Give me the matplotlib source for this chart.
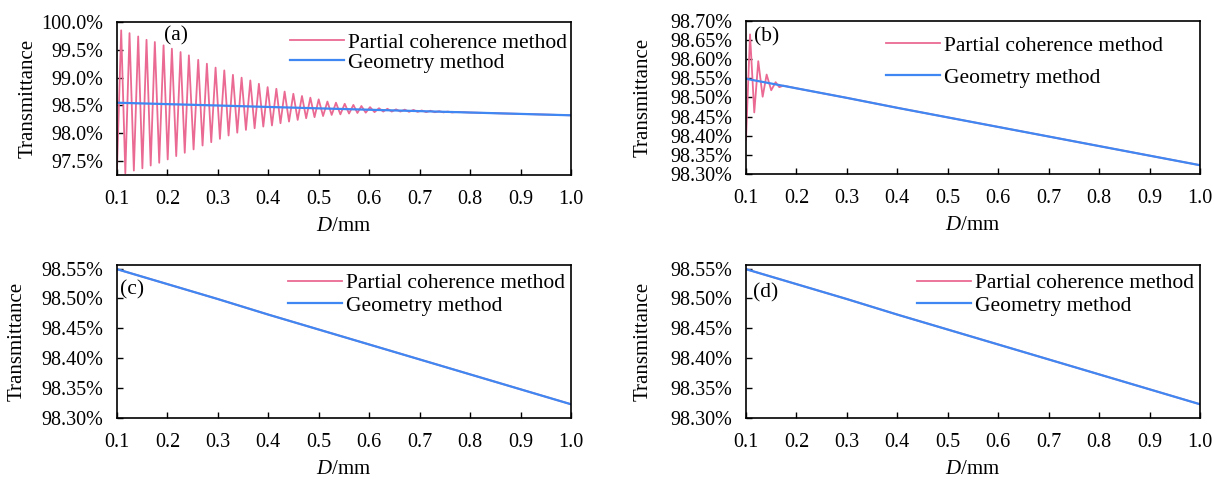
import numpy as np
import matplotlib
matplotlib.use('Agg')
import matplotlib.pyplot as plt
from matplotlib.ticker import FormatStrFormatter, MultipleLocator

plt.rcParams['font.family'] = ['Liberation Serif', 'DejaVu Serif']
plt.rcParams['font.size'] = 14.5
plt.rcParams['mathtext.fontset'] = 'custom'
plt.rcParams['mathtext.it'] = 'Liberation Serif:italic'
plt.rcParams['mathtext.rm'] = 'Liberation Serif'

# geometry method (c)/(d)
geo_D = [0.1, 0.2, 0.3, 0.4, 0.5, 0.6, 0.7, 0.8, 0.9, 1.0]
geo_T = [98.549, 98.524, 98.499, 98.473, 98.448, 98.423, 98.398, 98.373, 98.348, 98.323]

# panel (a): partial coherence, peaks and troughs of the fringes
a_start = (0.100, 97.35)
a_peak_D = [0.1083, 0.1248, 0.1420, 0.1585, 0.1750, 0.1923, 0.2088, 0.2260, 0.2425, 0.2610,
            0.2782, 0.2954, 0.3127, 0.3298, 0.3470, 0.3643, 0.3813, 0.3986, 0.4159, 0.4323,
            0.4496, 0.4667, 0.4833, 0.4998, 0.5171, 0.5341, 0.5514, 0.5686, 0.5845, 0.6016,
            0.6194, 0.6361, 0.6532, 0.6704, 0.6877, 0.7042, 0.7214, 0.7386, 0.7558, 0.7730]
a_peak_T = [99.85, 99.80, 99.74, 99.68, 99.64, 99.58, 99.52, 99.46, 99.40, 99.32,
            99.25, 99.18, 99.13, 99.05, 99.00, 98.95, 98.89, 98.83, 98.80, 98.75,
            98.71, 98.67, 98.64, 98.61, 98.57, 98.55, 98.53, 98.51, 98.49, 98.47,
            98.45, 98.44, 98.43, 98.425, 98.42, 98.41, 98.405, 98.397, 98.39, 98.384]
a_trough_D = [0.1165, 0.1334, 0.1503, 0.1668, 0.1837, 0.2005, 0.2174, 0.2343, 0.2518, 0.2696,
              0.2868, 0.3040, 0.3212, 0.3384, 0.3556, 0.3728, 0.3900, 0.4072, 0.4241, 0.4410,
              0.4582, 0.4750, 0.4916, 0.5085, 0.5256, 0.5428, 0.5600, 0.5766, 0.5931, 0.6105,
              0.6278, 0.6447, 0.6618, 0.6790, 0.6960, 0.7128, 0.7300, 0.7472, 0.7644]
a_trough_T = [97.28, 97.33, 97.37, 97.42, 97.47, 97.53, 97.59, 97.65, 97.71, 97.78,
              97.84, 97.90, 97.96, 98.01, 98.06, 98.09, 98.12, 98.14, 98.18, 98.21,
              98.24, 98.27, 98.29, 98.31, 98.33, 98.34, 98.355, 98.365, 98.37, 98.38,
              98.39, 98.39, 98.39, 98.385, 98.385, 98.38, 98.378, 98.376, 98.374]
a_tail_D = [0.8, 0.9, 1.0]
a_tail_T = [98.373, 98.348, 98.323]

# panel (b): partial coherence
b_pc_D = [0.100, 0.108, 0.1164, 0.1243, 0.1330, 0.1409, 0.1500, 0.1587, 0.1660, 0.1740,
          0.2, 0.3, 0.4, 0.5, 0.6, 0.7, 0.8, 0.9, 1.0]
b_pc_T = [98.39, 98.665, 98.461, 98.595, 98.502, 98.560, 98.519, 98.540, 98.527, 98.531,
          98.524, 98.499, 98.473, 98.448, 98.423, 98.398, 98.373, 98.348, 98.323]

# build the zigzag of panel (a) from start, alternating peak/trough, tail
a_pc_D = [a_start[0]]
a_pc_T = [a_start[1]]
for i in range(len(a_peak_D)):
    a_pc_D.append(a_peak_D[i])
    a_pc_T.append(a_peak_T[i])
    if i < len(a_trough_D):
        a_pc_D.append(a_trough_D[i])
        a_pc_T.append(a_trough_T[i])
a_pc_D += a_tail_D
a_pc_T += a_tail_T

pink = '#EA6A93'
blue = '#3F87F2'

fig = plt.figure(figsize=(12.14, 4.79), dpi=100)
W, H = 1214, 479

def rect(x0, x1, y0, y1):
    return [x0 / W, 1 - y1 / H, (x1 - x0) / W, (y1 - y0) / H]

panels = [
    dict(r=rect(117, 571, 22, 175), pc=(a_pc_D, a_pc_T), ylim=(97.25, 100.0), step=0.5, fmt='%.1f%%',
         tag='(a)', tagpos=(0.104, 0.912), leg=(0.381, 0.93), ls=0.0, ylab=-0.174),
    dict(r=rect(746, 1200, 21, 174), pc=(b_pc_D, b_pc_T), ylim=(98.30, 98.70), step=0.05, fmt='%.2f%%',
         tag='(b)', tagpos=(0.018, 0.895), leg=(0.308, 0.905), ls=0.55, ylab=-0.205),
    dict(r=rect(117, 571, 265, 418), pc=(geo_D, geo_T), ylim=(98.30, 98.556), step=0.05, fmt='%.2f%%',
         tag='(c)', tagpos=(0.006, 0.838), leg=(0.377, 0.945), ls=0.1, ylab=-0.200),
    dict(r=rect(746, 1200, 265, 418), pc=(geo_D, geo_T), ylim=(98.30, 98.556), step=0.05, fmt='%.2f%%',
         tag='(d)', tagpos=(0.016, 0.816), leg=(0.377, 0.945), ls=0.1, ylab=-0.205),
]

for p in panels:
    ax = fig.add_axes(p['r'])
    ax.plot(p['pc'][0], p['pc'][1], color=pink, lw=1.3, label='Partial coherence method')
    ax.plot(geo_D, geo_T, color=blue, lw=1.6, label='Geometry method')
    ax.set_xlim(0.1, 1.0)
    ax.set_ylim(*p['ylim'])
    ax.xaxis.set_major_locator(MultipleLocator(0.1))
    ax.xaxis.set_major_formatter(FormatStrFormatter('%.1f'))
    ax.yaxis.set_major_locator(MultipleLocator(p['step']))
    ax.yaxis.set_major_formatter(FormatStrFormatter(p['fmt']))
    ax.tick_params(direction='in', length=4, width=1, top=False, right=False)
    ax.tick_params(axis='x', pad=11)
    ax.tick_params(axis='y', pad=10)
    for s in ax.spines.values():
        s.set_linewidth(1.2)
    ax.set_xlabel('$D$/mm', fontsize=15)
    ax.xaxis.set_label_coords(0.5, -0.275)
    ax.set_ylabel('Transmittance', fontsize=15)
    ax.yaxis.set_label_coords(p['ylab'], 0.5)
    ax.text(p['tagpos'][0], p['tagpos'][1], p['tag'], transform=ax.transAxes, va='center', ha='left',
            fontsize=15.5)
    ax.legend(loc='upper left', bbox_to_anchor=p['leg'], frameon=False, borderpad=0,
              borderaxespad=0, handlelength=2.5, handletextpad=0.2, labelspacing=p['ls'],
              fontsize=15.5)

plt.savefig('out.png', dpi=100)
